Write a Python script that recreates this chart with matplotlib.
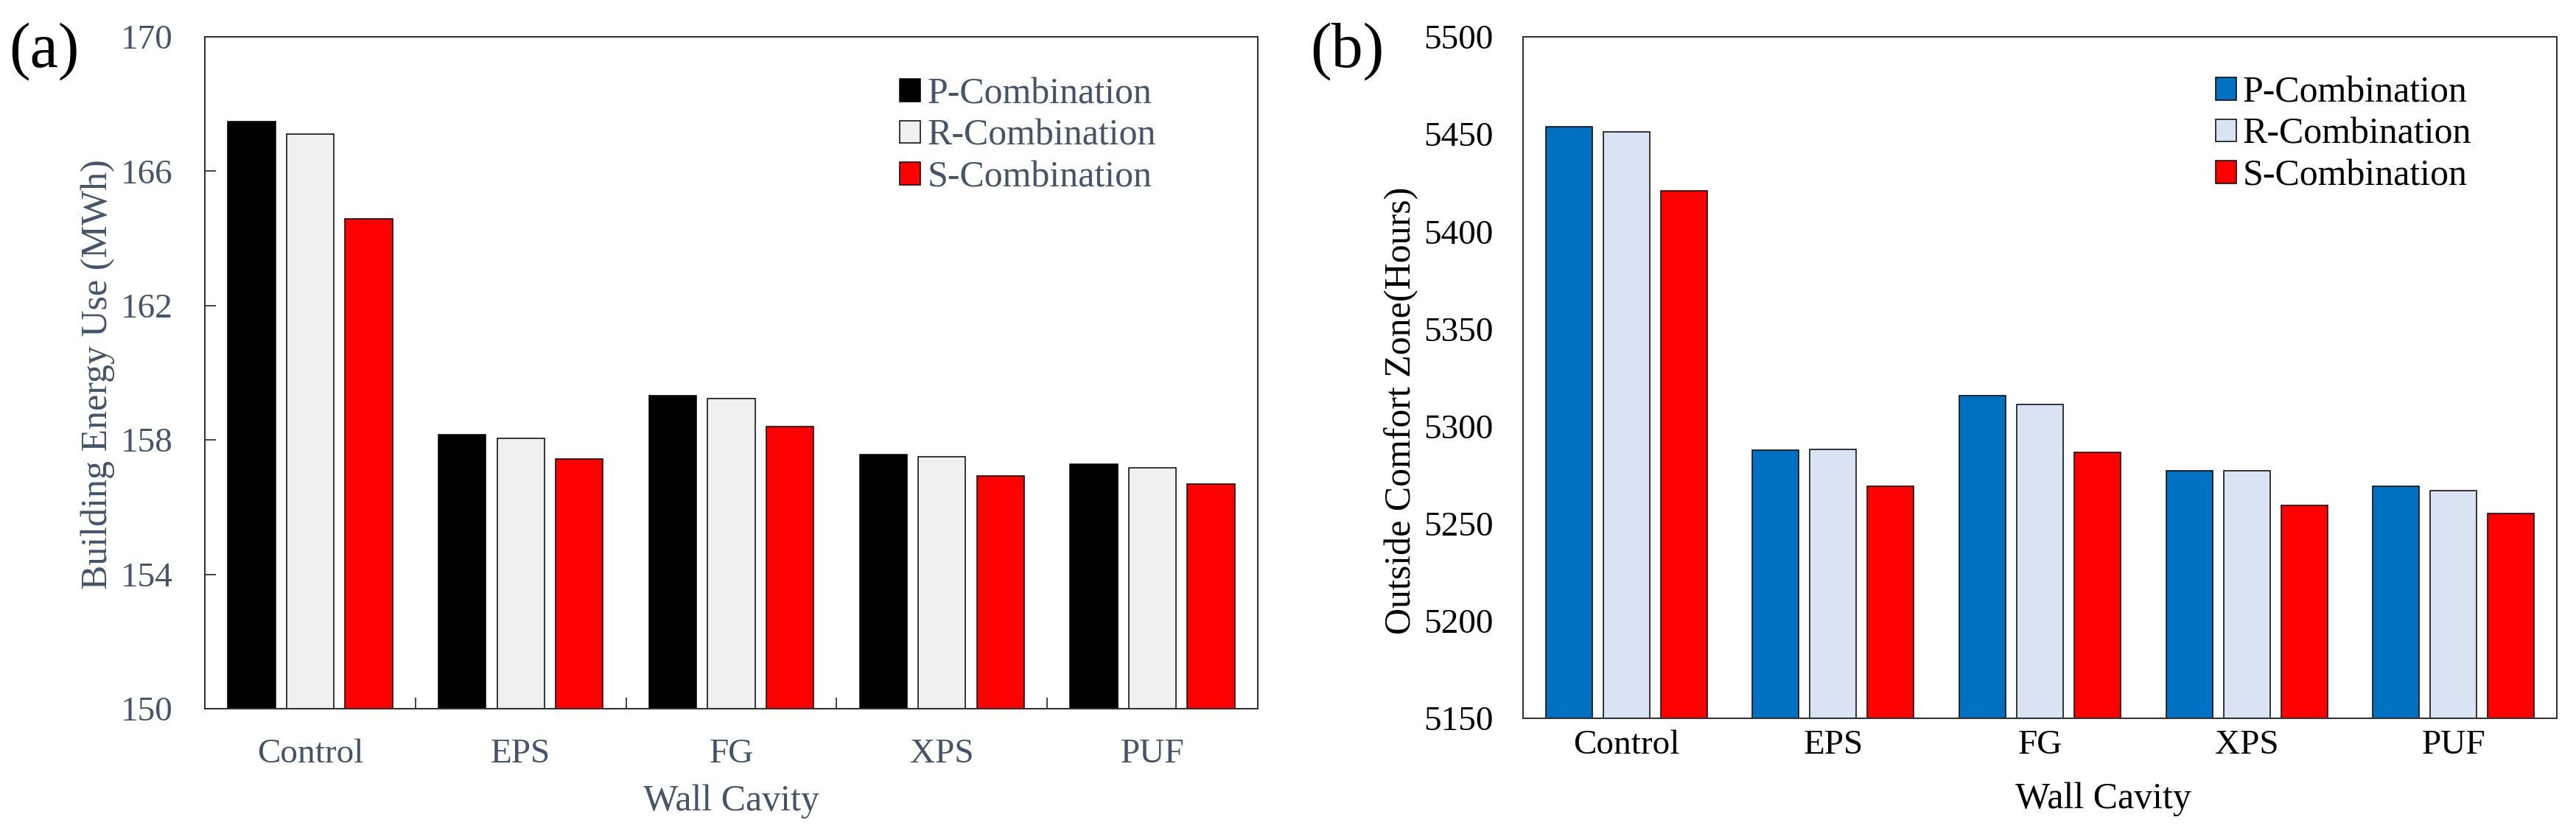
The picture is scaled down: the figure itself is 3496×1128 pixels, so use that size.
import numpy as np
import matplotlib
matplotlib.use("Agg")
import matplotlib.pyplot as plt
from matplotlib.ticker import FixedLocator, NullFormatter

plt.rcParams['font.family'] = ['Liberation Serif', 'DejaVu Serif']

# data
walls = ['Control', 'EPS', 'FG', 'XPS', 'PUF']
series = ['P-Combination', 'R-Combination', 'S-Combination']

energy_p = [167.47, 158.16, 159.33, 157.56, 157.29]
energy_r = [167.11, 158.05, 159.23, 157.50, 157.18]
energy_s = [164.59, 157.43, 158.41, 156.93, 156.68]

hours_p = [5453.7, 5287.8, 5315.9, 5277.2, 5269.3]
hours_r = [5451.0, 5288.0, 5311.2, 5277.0, 5267.1]
hours_s = [5421.0, 5269.3, 5286.7, 5259.5, 5255.1]

slate = '#44546A'
W, H = 3496, 1128
fig = plt.figure(figsize=(W / 100, H / 100), dpi=100)


def px_axes(l, t, r, b):
    return fig.add_axes([l / W, 1 - b / H, (r - l) / W, (b - t) / H])


def draw(ax, vals, colors, ylim, yticks, txtcol, ticks_on, xpad, ypad):
    x = np.arange(len(walls))
    offs = [-0.278, 0.0, 0.278]
    for v, c, o, name in zip(vals, colors, offs, series):
        ax.bar(x + o, v, 0.225, color=c, edgecolor='black', linewidth=1.1,
               label=name, zorder=2)
    ax.set_xlim(-0.5, len(walls) - 0.5)
    ax.set_ylim(*ylim)
    ax.set_yticks(yticks)
    ax.set_xticks(x)
    ax.set_xticklabels(walls)
    for sp in ax.spines.values():
        sp.set_color('#333333')
        sp.set_linewidth(1.5)
        sp.set_zorder(3)
    ax.tick_params(axis='x', which='major', length=0, pad=xpad,
                   labelsize=34, labelcolor=txtcol)
    ax.tick_params(axis='y', which='major', direction='in',
                   length=11 if ticks_on else 0, width=1.3, color='#333333',
                   pad=ypad, labelsize=34, labelcolor=txtcol)
    if ticks_on:
        ax.xaxis.set_minor_locator(FixedLocator(np.arange(0.5, len(walls) - 0.5, 1)))
        ax.xaxis.set_minor_formatter(NullFormatter())
        ax.tick_params(axis='x', which='minor', direction='in', length=11,
                       width=1.3, color='#333333')


# (a) building energy use
ax1 = px_axes(278, 50, 1707, 962)
draw(ax1, [energy_p, energy_r, energy_s], ['#000000', '#F0F0F0', '#FF0000'],
     (150, 170), [150, 154, 158, 162, 166, 170], slate, True, 29, 31)
ax1.set_xlabel('Wall Cavity', fontsize=36, color=slate, va='center')
ax1.xaxis.set_label_coords(0.5, (962 - 1088) / 912)
fig.text(133 / W, 1 - 508 / H, 'Building Energy Use (MWh)', rotation=90,
         fontsize=36, color=slate, ha='center', va='center')
leg1 = ax1.legend(loc='upper left', bbox_to_anchor=(0.66, 0.94), frameon=False,
                  fontsize=36, handlelength=0.56, handleheight=0.56,
                  handletextpad=0.18, labelspacing=0.2, borderpad=0,
                  borderaxespad=0)
for t in leg1.get_texts():
    t.set_color(slate)
fig.text(60 / W, 1 - 70 / H, '(a)', fontsize=62, ha='center', va='center')

# (b) hours outside comfort zone
ax2 = px_axes(2067, 50, 3470, 975)
draw(ax2, [hours_p, hours_r, hours_s], ['#0070C0', '#DAE3F3', '#FF0000'],
     (5150, 5500), list(range(5150, 5501, 50)), 'black', False, 11, 29)
ax2.set_xlabel('Wall Cavity', fontsize=36, color='black', va='center')
ax2.xaxis.set_label_coords(0.561, (975 - 1085) / 925)
fig.text(1902 / W, 1 - 557 / H, 'Outside Comfort Zone(Hours)', rotation=90,
         fontsize=36, color='black', ha='center', va='center')
ax2.legend(loc='upper left', bbox_to_anchor=(0.67, 0.943), frameon=False,
           fontsize=36, handlelength=0.56, handleheight=0.56,
           handletextpad=0.18, labelspacing=0.2, borderpad=0,
           borderaxespad=0)
fig.text(1828 / W, 1 - 70 / H, '(b)', fontsize=62, ha='center', va='center')

fig.savefig('out.png', dpi=100)
